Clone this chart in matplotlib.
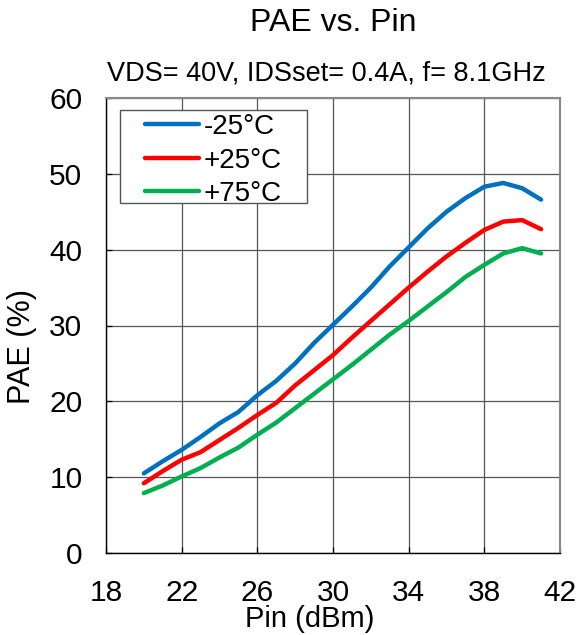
import matplotlib.pyplot as plt
from matplotlib.patches import Rectangle

plt.rcParams['font.family'] = ['Liberation Sans', 'DejaVu Sans']

pin = [20, 21, 22, 23, 24, 25, 26, 27, 28, 29, 30, 31, 32, 33, 34, 35, 36, 37, 38, 39, 40, 41]
pae_m25 = [10.5, 12.1, 13.6, 15.3, 17.1, 18.6, 20.8, 22.7, 25.0, 27.7, 30.1, 32.5,
           35.0, 37.8, 40.3, 42.8, 45.0, 46.8, 48.3, 48.8, 48.1, 46.6]
pae_p25 = [9.2, 10.8, 12.3, 13.3, 14.9, 16.5, 18.2, 19.8, 22.1, 24.1, 26.1, 28.4,
           30.6, 32.8, 35.0, 37.1, 39.1, 40.9, 42.6, 43.7, 43.9, 42.7]
pae_p75 = [7.9, 8.9, 10.1, 11.2, 12.6, 13.9, 15.6, 17.2, 19.1, 21.0, 22.9, 24.8,
           26.8, 28.8, 30.6, 32.5, 34.4, 36.4, 38.0, 39.5, 40.2, 39.5]
labels = ['-25°C', '+25°C', '+75°C']
colors = ['#0070c0', '#ff0000', '#00b050']
xticks = [18, 22, 26, 30, 34, 38, 42]
yticks = [0, 10, 20, 30, 40, 50, 60]

fig = plt.figure(figsize=(5.8, 6.35), dpi=100)
ax = fig.add_axes([106 / 580, 82 / 635, 454 / 580, 455 / 635])

for ys, lab, c in zip([pae_m25, pae_p25, pae_p75], labels, colors):
    ax.plot(pin, ys, color=c, lw=3.2, label=lab, solid_capstyle='round')

ax.set_xlim(18, 42)
ax.set_ylim(0, 60)
ax.set_xticks(xticks)
ax.set_yticks(yticks)
ax.grid(True, color='#555555', lw=0.9)
ax.tick_params(direction='in', length=4, labelsize=21.5, width=0.9)
ax.tick_params(axis='x', pad=19)
ax.tick_params(axis='y', pad=17)
for s in ['left', 'bottom']:
    ax.spines[s].set_color('black')
    ax.spines[s].set_linewidth(1.0)
for s in ['top', 'right']:
    ax.spines[s].set_color('#888888')
    ax.spines[s].set_linewidth(1.5)

# legend box drawn separately so it can be wider than the legend content
box = Rectangle((120 / 580, 1 - 203 / 635), 187 / 580, 93 / 635,
                transform=fig.transFigure, facecolor='white',
                edgecolor='#555555', lw=1.0, zorder=4, clip_on=False)
ax.add_patch(box)
leg = ax.legend(loc='upper left', bbox_to_anchor=(145 / 580, 1 - 114 / 635),
                bbox_transform=fig.transFigure, borderaxespad=0, fontsize=20,
                frameon=False, handlelength=1.95, handletextpad=0.15,
                labelspacing=0.27, borderpad=0)
leg.set_zorder(5)

fig.text(333 / 580, 1 - 23 / 635, 'PAE vs. Pin', fontsize=23, ha='center', va='center')
fig.text(107 / 580, 1 - 73 / 635, 'VDS= 40V, IDSset= 0.4A, f= 8.1GHz', fontsize=19.5,
         ha='left', va='center')
fig.text(310 / 580, 1 - 619 / 635, 'Pin (dBm)', fontsize=21, ha='center', va='center')
fig.text(22 / 580, 1 - 347 / 635, 'PAE (%)', fontsize=22, ha='center', va='center',
         rotation=90)

fig.savefig('out.png', dpi=100)
